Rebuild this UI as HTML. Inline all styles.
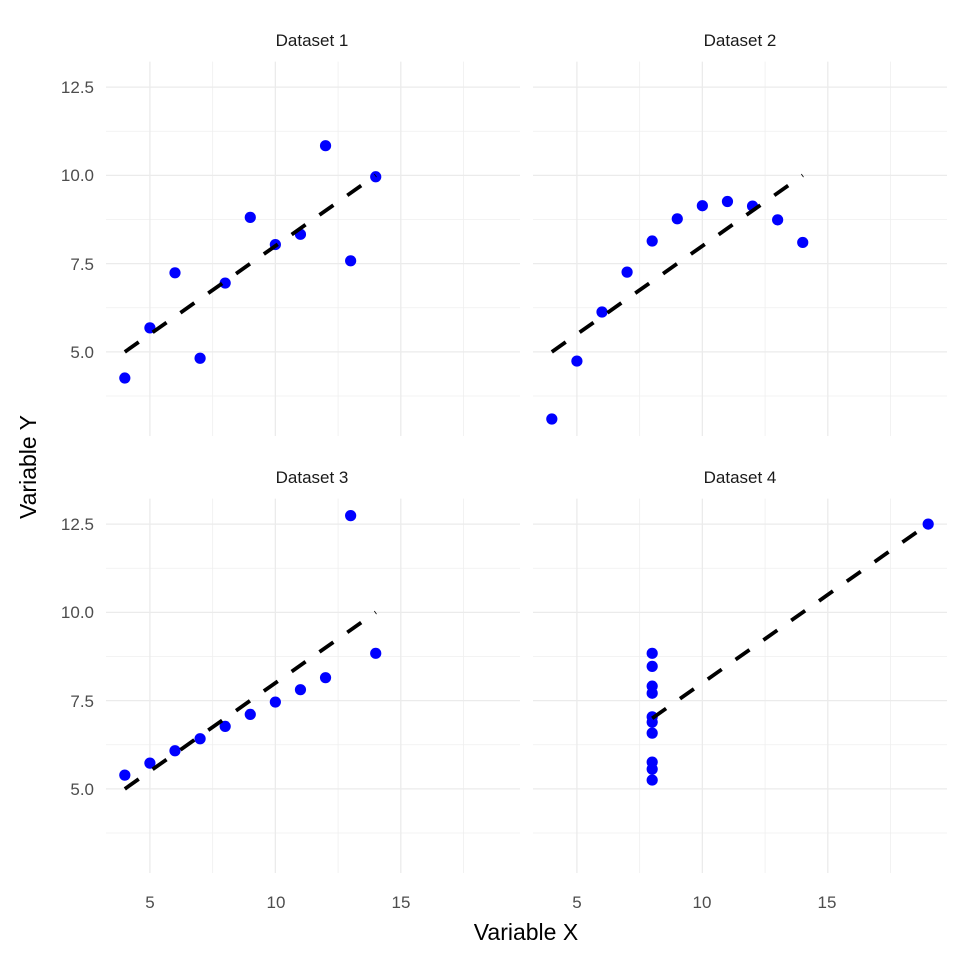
<!DOCTYPE html>
<html><head><meta charset="utf-8"><style>
html,body{margin:0;padding:0;background:#fff}
svg{display:block}
text{font-family:"Liberation Sans",Arial,sans-serif}
</style></head><body>
<svg id="s" width="960" height="960" viewBox="0 0 960 960" xmlns="http://www.w3.org/2000/svg">
<rect width="960" height="960" fill="#fff"/>
<g id="grid"></g>
<g id="data"></g>
<g fill="#1a1a1a" font-size="17" text-anchor="middle">
<text x="312" y="46">Dataset 1</text>
<text x="740" y="46">Dataset 2</text>
<text x="312" y="483">Dataset 3</text>
<text x="740" y="483">Dataset 4</text>
</g>
<g fill="#4d4d4d" font-size="17" text-anchor="end">
<text x="94" y="93">12.5</text>
<text x="94" y="181">10.0</text>
<text x="94" y="270">7.5</text>
<text x="94" y="358">5.0</text>
<text x="94" y="530">12.5</text>
<text x="94" y="618">10.0</text>
<text x="94" y="707">7.5</text>
<text x="94" y="795">5.0</text>
</g>
<g fill="#4d4d4d" font-size="17" text-anchor="middle">
<text x="150" y="908">5</text>
<text x="276" y="908">10</text>
<text x="401" y="908">15</text>
<text x="577" y="908">5</text>
<text x="702" y="908">10</text>
<text x="827" y="908">15</text>
</g>
<text x="526" y="940" font-size="23" text-anchor="middle" fill="#000">Variable X</text>
<text x="0" y="0" font-size="23" text-anchor="middle" fill="#000" transform="translate(36,467) rotate(-90)">Variable Y</text>
</svg>
<script>
var NS="http://www.w3.org/2000/svg";
function el(p,t,a){var e=document.createElementNS(NS,t);for(var k in a)e.setAttribute(k,a[k]);p.appendChild(e);return e;}
var G=document.getElementById("grid"),D=document.getElementById("data");
var panels=[{x0:106,x1:520,ytop:61.6,yb:436},{x0:533,x1:947,ytop:61.6,yb:436},{x0:106,x1:520,ytop:498.6,yb:873},{x0:533,x1:947,ytop:498.6,yb:873}];
var xs=[10,8,13,9,11,14,6,4,12,7,5];
var X=[xs,xs,xs,[8,8,8,8,8,8,8,19,8,8,8]];
var Y=[[8.04,6.95,7.58,8.81,8.33,9.96,7.24,4.26,10.84,4.82,5.68],
[9.14,8.14,8.74,8.77,9.26,8.10,6.13,3.10,9.13,7.26,4.74],
[7.46,6.77,12.74,7.11,7.81,8.84,6.08,5.39,8.15,6.42,5.73],
[6.58,5.76,7.71,8.84,8.47,7.04,5.25,12.50,5.56,7.91,6.89]];
panels.forEach(function(p,i){
 var sx=function(v){return p.x0+(v-3.25)*(p.x1-p.x0)/16.5;};
 var sy=function(v){return p.yb-(v-2.618)*(p.yb-p.ytop)/(13.222-2.618);};
 [7.5,12.5,17.5].forEach(function(v){el(G,"line",{x1:sx(v),x2:sx(v),y1:p.ytop,y2:p.yb,stroke:"#efefef","stroke-width":0.8});});
 [3.75,6.25,8.75,11.25].forEach(function(v){el(G,"line",{x1:p.x0,x2:p.x1,y1:sy(v),y2:sy(v),stroke:"#efefef","stroke-width":0.8});});
 [5,10,15].forEach(function(v){el(G,"line",{x1:sx(v),x2:sx(v),y1:p.ytop,y2:p.yb,stroke:"#ebebeb","stroke-width":1.3});});
 [5,7.5,10,12.5].forEach(function(v){el(G,"line",{x1:p.x0,x2:p.x1,y1:sy(v),y2:sy(v),stroke:"#ebebeb","stroke-width":1.3});});
 X[i].forEach(function(x,j){el(D,"circle",{cx:sx(x),cy:sy(Y[i][j]),r:5.6,fill:"#0000ff"});});
 var mn=Math.min.apply(null,X[i]),mx=Math.max.apply(null,X[i]);
 el(D,"line",{x1:sx(mn),y1:sy(3+0.5*mn),x2:sx(mx),y2:sy(3+0.5*mx),stroke:"#000","stroke-width":3.8,"stroke-dasharray":"17,17"});
});
</script>
</body></html>
